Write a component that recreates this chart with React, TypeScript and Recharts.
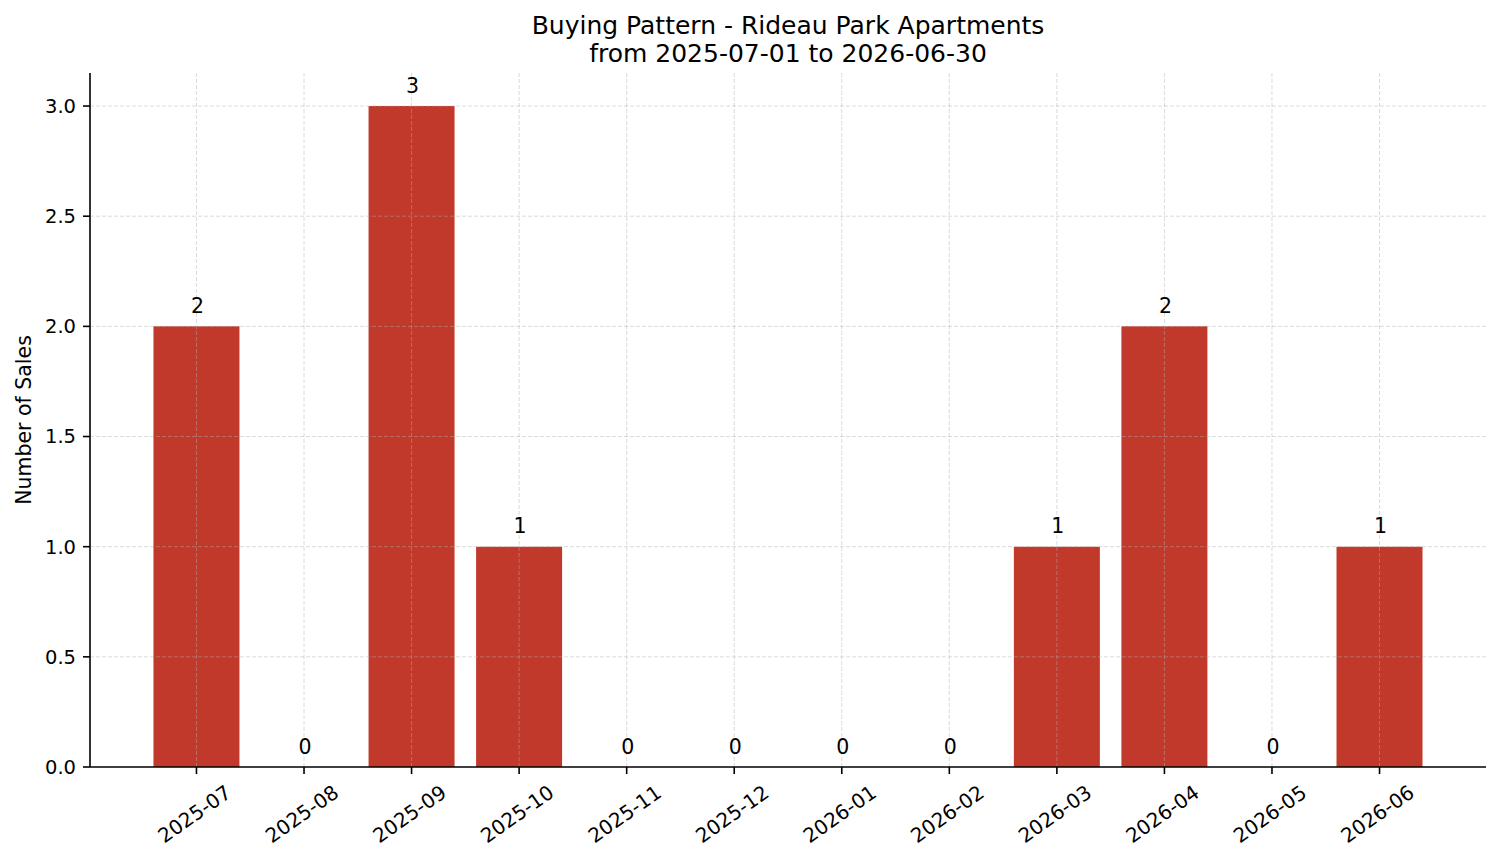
import React from 'react';
import { ComposedChart, Bar, Line, XAxis, YAxis, ReferenceLine, LabelList } from 'recharts';

const months = ['2025-07', '2025-08', '2025-09', '2025-10', '2025-11', '2025-12', '2026-01', '2026-02', '2026-03', '2026-04', '2026-05', '2026-06'];
const sales = [2, 0, 3, 1, 0, 0, 0, 0, 1, 2, 0, 1];
const yTicks = [0, 0.5, 1, 1.5, 2, 2.5, 3];
const titleLines = ['Buying Pattern - Rideau Park Apartments', 'from 2025-07-01 to 2026-06-30'];
const yLabel = 'Number of Sales';

const data = months.map((m, i) => ({ month: m, sales: sales[i] }));

const FONT = '"DejaVu Sans", sans-serif';
const W = 1501;
const H = 863;
const GRID = { stroke: '#b0b0b0', strokeOpacity: 0.5, strokeDasharray: '4 2', strokeWidth: 0.9 };

const XTick = (props: any) => {
  const { x, y, payload } = props;
  const cx = x - 2;
  const cy = y + 33;
  return (
    <text
      x={cx}
      y={cy}
      textAnchor="middle"
      dominantBaseline="central"
      transform={`rotate(-35, ${cx}, ${cy})`}
      fontFamily={FONT}
      fontSize={20}
      fill="#000"
    >
      {payload.value}
    </text>
  );
};

const ValueLabel = (props: any) => {
  const { x, y, value } = props;
  return (
    <text
      x={Number(x) + 1}
      y={Number(y) - 13.5}
      textAnchor="middle"
      fontFamily={FONT}
      fontSize={20.5}
      fill="#000"
    >
      {value}
    </text>
  );
};

export default function App() {
  return (
    <div style={{ position: 'absolute', left: 0, top: 0, width: W, height: H, background: '#fff' }}>
      <ComposedChart
        width={W}
        height={H}
        data={data}
        margin={{ top: 73, right: 15, left: 0, bottom: 0 }}
        barCategoryGap="10%"
      >
        <XAxis
          dataKey="month"
          height={96}
          padding={{ left: 52.7, right: 52.7 }}
          tick={<XTick />}
          tickSize={7}
          tickMargin={7}
          interval={0}
          axisLine={{ stroke: '#000', strokeWidth: 1.6 }}
          tickLine={{ stroke: '#000', strokeWidth: 1.6 }}
        />
        <YAxis
          width={90}
          domain={[0, 3.15]}
          ticks={yTicks}
          tickFormatter={(v: number) => v.toFixed(1)}
          tickSize={7}
          tickMargin={7}
          allowDataOverflow
          axisLine={{ stroke: '#000', strokeWidth: 1.6 }}
          tickLine={{ stroke: '#000', strokeWidth: 1.6 }}
          tick={{ fill: '#000', fontSize: 19.5, fontFamily: FONT }}
        />
        <Bar dataKey="sales" fill="#c0392b" isAnimationActive={false} />
        {months.map((m) => (
          <ReferenceLine key={m} x={m} {...GRID} />
        ))}
        {yTicks.filter((t) => t > 0).map((t) => (
          <ReferenceLine key={t} y={t} {...GRID} />
        ))}
        <Line
          dataKey="sales"
          stroke="none"
          dot={false}
          activeDot={false}
          isAnimationActive={false}
          legendType="none"
        >
          <LabelList dataKey="sales" content={<ValueLabel />} />
        </Line>
      </ComposedChart>
      <svg
        width={W}
        height={H}
        style={{ position: 'absolute', left: 0, top: 0, pointerEvents: 'none' }}
      >
        <text x={788} y={33.5} textAnchor="middle" fontFamily={FONT} fontSize={25} fill="#000">
          {titleLines[0]}
        </text>
        <text x={788} y={61.5} textAnchor="middle" fontFamily={FONT} fontSize={25} fill="#000">
          {titleLines[1]}
        </text>
        <text
          x={31}
          y={420}
          textAnchor="middle"
          transform="rotate(-90, 31, 420)"
          fontFamily={FONT}
          fontSize={20.5}
          fill="#000"
        >
          {yLabel}
        </text>
      </svg>
    </div>
  );
}
